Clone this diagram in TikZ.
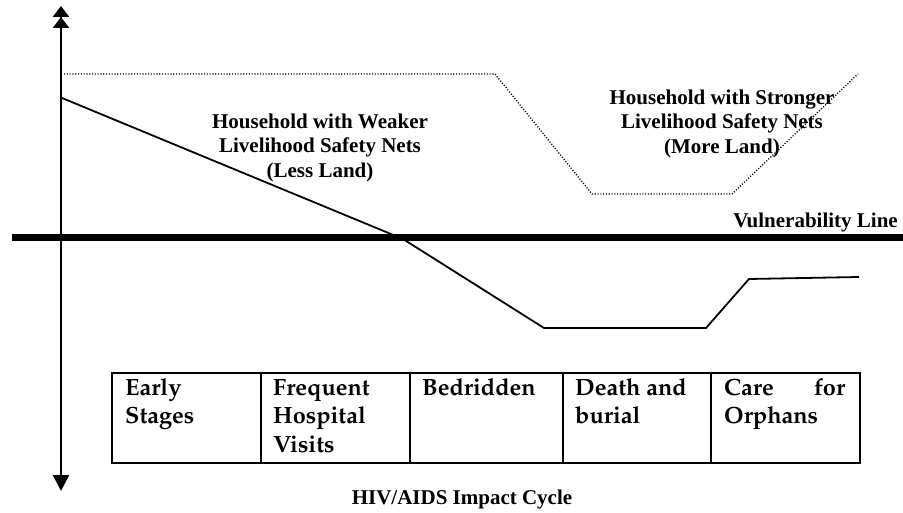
\documentclass[tikz,border=0pt]{standalone}
\usepackage[T1]{fontenc}
\usepackage{fontspec}
\setmainfont{Liberation Serif}
\usetikzlibrary{arrows.meta}
\newcommand\mystrut[1]{\rule{0pt}{#1}}
\newcommand\tabfont{\fontencoding{T1}\fontfamily{ppl}\bfseries\fontsize{23.5}{28.5}\selectfont}
\begin{document}
\begin{tikzpicture}[x=1pt,y=-1pt,
  lbl/.style={inner sep=0pt, align=center, font=\bfseries\fontsize{21}{24.5}\selectfont},
  cell/.style={draw, line width=1.8pt, minimum height=90pt, inner sep=0pt, anchor=north west},
  celltxt/.style={inner sep=0pt, anchor=north west, align=left, font=\tabfont},
  curve/.style={line width=1.8pt, line join=miter},
  dotcurve/.style={line width=1.3pt, dash pattern=on 1.1pt off 1.7pt}]
\useasboundingbox (0,0) rectangle (903,513);

% axis
\coordinate (axb) at (61,491);
\coordinate (axt) at (61,6);
\draw[line width=2.5pt, {Triangle[width=16pt,length=16pt]}-{Triangle[width=16pt,length=11pt]Triangle[width=16pt,length=11pt]}] (axb) -- (axt);

% vulnerability line
\coordinate (vl) at (12,238);
\coordinate (vr) at (903,238);
\draw[line width=7pt] (vl) -- (vr);
\node[lbl, anchor=base east] (vlab) at (898,228) {Vulnerability Line};

% weaker household (solid)
\coordinate (w0) at (62,98);
\coordinate (w1) at (403,239);
\coordinate (w2) at (544,328);
\coordinate (w3) at (706,328);
\coordinate (w4) at (749,279);
\coordinate (w5) at (859,277);
\draw[curve] (w0) -- (w1) -- (w2) -- (w3) -- (w4) -- (w5);

% stronger household (dotted)
\coordinate (s0) at (64,74);
\coordinate (s1) at (495,74);
\coordinate (s2) at (592,194);
\coordinate (s3) at (732,194);
\coordinate (s4) at (858,74);
\draw[dotcurve] (s0) -- (s1) -- (s2) -- (s3) -- (s4);

\node[lbl, anchor=north] (wlab) at (320,113) {\mystrut{15pt}Household with Weaker\\Livelihood Safety Nets\\(Less Land)};
\node[lbl, anchor=north] (slab) at (722,89) {\mystrut{15pt}Household with Stronger\\Livelihood Safety Nets\\(More Land)};

% table
\node[cell, minimum width=149pt] (c1) at (111,372) {};
\node[cell, minimum width=149pt] (c2) at (260,372) {};
\node[cell, minimum width=153pt] (c3) at (409,372) {};
\node[cell, minimum width=148pt] (c4) at (562,372) {};
\node[cell, minimum width=149pt] (c5) at (710,372) {};

\node[celltxt] (t1) at (125,377) {\mystrut{18pt}Early\\Stages};
\node[celltxt] (t2) at (273,377) {\mystrut{18pt}Frequent\\Hospital\\Visits};
\node[celltxt] (t3) at (422,377) {\mystrut{18pt}Bedridden};
\node[celltxt] (t4) at (575,377) {\mystrut{18pt}Death and\\burial};
\node[celltxt, text width=121pt] (t5) at (724,377) {\mystrut{18pt}Care\hskip 0pt plus 1fill for\\Orphans};

\node[lbl, anchor=base] (title) at (462,504) {HIV/AIDS Impact Cycle};
\end{tikzpicture}
\end{document}
